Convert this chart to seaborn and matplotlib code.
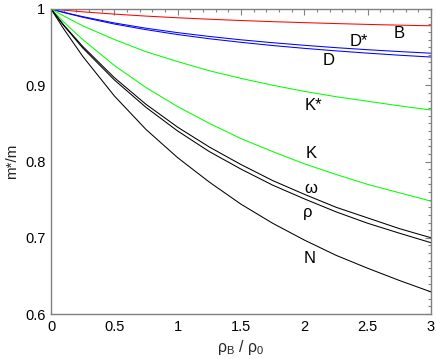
import numpy as np
import pandas as pd
import matplotlib
matplotlib.use("Agg")
import matplotlib.pyplot as plt
import seaborn as sns
from matplotlib.ticker import MultipleLocator, FixedLocator

# ---- data ----
rho = [0, 0.1, 0.25, 0.5, 0.75, 1.0, 1.25, 1.5, 1.75, 2.0, 2.25, 2.5, 2.75, 3.0]

B_vals     = [1, 0.9985, 0.9963, 0.9933, 0.9907, 0.9885, 0.9866, 0.9849, 0.9834, 0.9821, 0.9809, 0.9798, 0.9788, 0.978]
Dstar_vals = [1, 0.9957, 0.990, 0.9817, 0.9748, 0.969, 0.964, 0.9596, 0.9558, 0.9524, 0.9493, 0.9466, 0.9442, 0.942]
D_vals     = [1, 0.9954, 0.9892, 0.9803, 0.9729, 0.9665, 0.961, 0.9563, 0.9521, 0.9484, 0.9451, 0.9421, 0.9394, 0.937]
Kstar_vals = [1, 0.991, 0.978, 0.960, 0.944, 0.931, 0.919, 0.909, 0.900, 0.892, 0.885, 0.879, 0.873, 0.8675]
K_vals     = [1, 0.983, 0.960, 0.926, 0.897, 0.872, 0.850, 0.830, 0.813, 0.797, 0.783, 0.770, 0.759, 0.748]
omega_vals = [1, 0.979, 0.951, 0.910, 0.875, 0.845, 0.819, 0.796, 0.775, 0.757, 0.740, 0.726, 0.712, 0.700]
rho_vals   = [1, 0.9785, 0.949, 0.907, 0.871, 0.840, 0.813, 0.790, 0.769, 0.751, 0.734, 0.719, 0.706, 0.6935]
N_vals     = [1, 0.974, 0.938, 0.886, 0.842, 0.805, 0.773, 0.744, 0.719, 0.697, 0.677, 0.660, 0.644, 0.629]

series_names = ["B", "D*", "D", "K*", "K", "ω", "ρ", "N"]
series_vals = [B_vals, Dstar_vals, D_vals, Kstar_vals, K_vals, omega_vals, rho_vals, N_vals]
series_colors = ["#ff0000", "#0000ff", "#0000ff", "#00ff00", "#00ff00", "#000000", "#000000", "#000000"]

x_ticks = [0, 0.5, 1, 1.5, 2, 2.5, 3]
x_ticklabels = ["0", "0.5", "1", "1.5", "2", "2.5", "3"]
y_ticks = [0.6, 0.7, 0.8, 0.9, 1.0]
y_ticklabels = ["0.6", "0.7", "0.8", "0.9", "1"]

# label positions (data coords)
label_x = [2.747, 2.43, 2.195, 2.07, 2.055, 2.055, 2.025, 2.045]
label_y = [0.9685, 0.958, 0.932, 0.874, 0.810, 0.764, 0.733, 0.673]

# ---- plotting ----
sns.set_style("white")
plt.rcParams["font.family"] = ["Liberation Sans", "DejaVu Sans"]
plt.rcParams["mathtext.fontset"] = "custom"
plt.rcParams["mathtext.rm"] = "Liberation Sans"
plt.rcParams["mathtext.it"] = "Liberation Sans:italic"

fig = plt.figure(figsize=(4.36, 3.59), dpi=100)
ax = fig.add_axes([51 / 436, 1 - 314 / 359, 380 / 436, 305 / 359])

frames = []
for name, vals in zip(series_names, series_vals):
    frames.append(pd.DataFrame({"rho": rho, "m": vals, "series": name}))
df = pd.concat(frames, ignore_index=True)

sns.lineplot(data=df, x="rho", y="m", hue="series", palette=dict(zip(series_names, series_colors)),
             hue_order=series_names, linewidth=0.75, legend=False, ax=ax, estimator=None, sort=False)

ax.set_xlim(0, 3)
ax.set_ylim(0.6, 1.0)
ax.xaxis.set_major_locator(FixedLocator(x_ticks))
ax.set_xticklabels(x_ticklabels)
ax.yaxis.set_major_locator(FixedLocator(y_ticks))
ax.set_yticklabels(y_ticklabels)
ax.xaxis.set_minor_locator(MultipleLocator(0.1))
ax.yaxis.set_minor_locator(MultipleLocator(0.01))

grey = "#808080"
for sp in ax.spines.values():
    sp.set_color(grey)
    sp.set_linewidth(1.0)
ax.tick_params(which="both", direction="in", top=True, right=True, color=grey,
               labelsize=10.5, labelcolor="black", width=0.8)
ax.tick_params(which="major", length=4.5, pad=4)
ax.tick_params(which="minor", length=2.2)

ax.set_xlabel(r"$\mathrm{\rho_{B}}$ / $\mathrm{\rho_{0}}$", fontsize=11.5, labelpad=3)
ax.set_ylabel("m*/m", fontsize=11, labelpad=4)

for name, lx, ly in zip(series_names, label_x, label_y):
    ax.text(lx, ly, name, fontsize=12, ha="center", va="center", color="black")

fig.savefig("out.png", dpi=100)
